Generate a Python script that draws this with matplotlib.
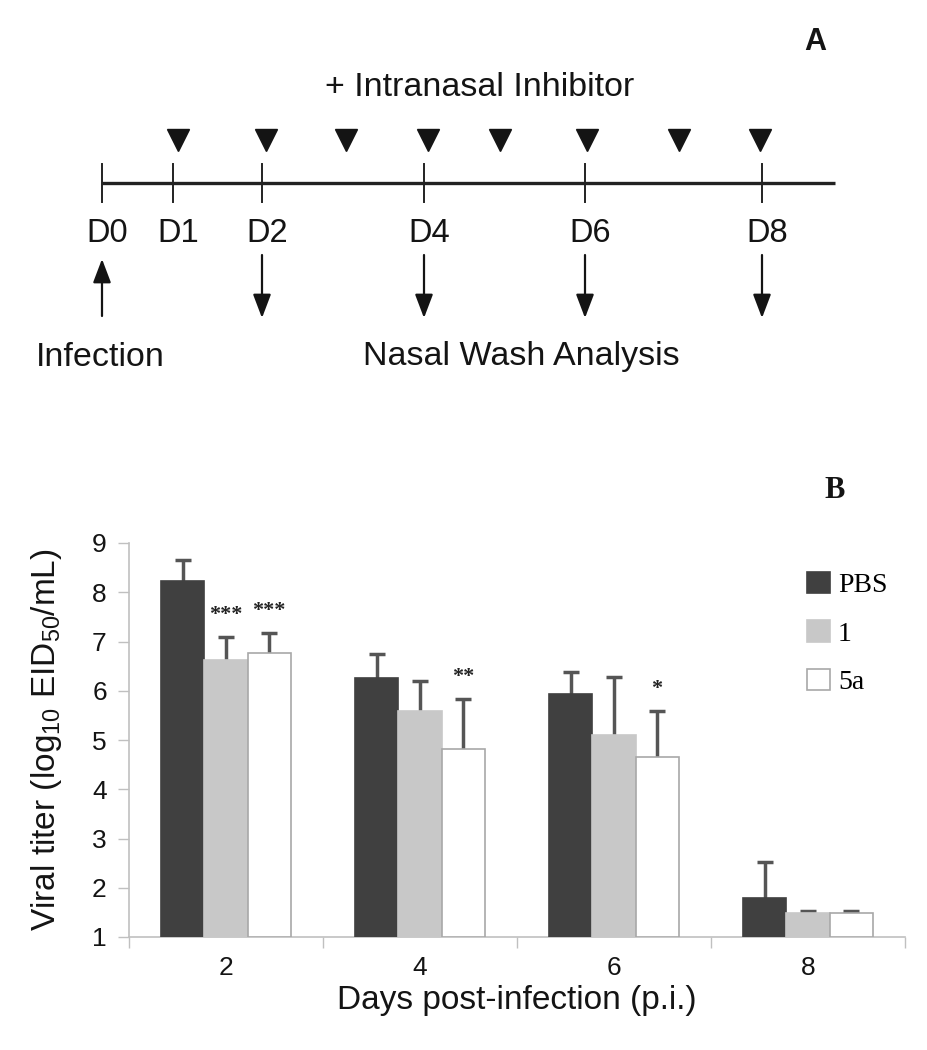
import numpy as np
import matplotlib
matplotlib.use("Agg")
import matplotlib.pyplot as plt
from matplotlib.patches import Patch

plt.rcParams['font.family'] = ['Liberation Sans', 'DejaVu Sans']
plt.rcParams['mathtext.default'] = 'regular'

# panel B data: viral titer (log10 EID50/mL) per day post-infection
days = ["2", "4", "6", "8"]
groups = ["PBS", "1", "5a"]
pbs = [8.22, 6.25, 5.93, 1.79]
cmpd_1 = [6.62, 5.58, 5.10, 1.49]
cmpd_5a = [6.76, 4.81, 4.65, 1.49]
pbs_err = [0.43, 0.49, 0.45, 0.73]
cmpd_1_err = [0.47, 0.61, 1.17, 0.03]
cmpd_5a_err = [0.41, 1.02, 0.93, 0.03]
sig_1 = ["***", "", "", ""]
sig_5a = ["***", "**", "*", ""]

# panel A schematic: timeline days, dosing days, wash days
timeline_days = ["D0", "D1", "D2", "D4", "D6", "D8"]
wash_days = ["D2", "D4", "D6", "D8"]

fig = plt.figure(figsize=(9.28, 10.5), dpi=100)

# ---- panel A: drawn in pixel coords of the top part of the figure ----
axA = fig.add_axes([0, 1 - 400 / 1050, 1, 400 / 1050])
axA.set_xlim(0, 928)
axA.set_ylim(400, 0)
axA.axis('off')

tick_x = {"D0": 102, "D1": 173, "D2": 262, "D4": 424, "D6": 585, "D8": 762}
dose_x = [178, 266, 346, 428, 500, 587, 679, 760]
ink = '#141414'

axA.plot([102, 835], [183, 183], color='#222222', lw=2.4, solid_capstyle='butt')
for d in timeline_days:
    axA.plot([tick_x[d], tick_x[d]], [164, 202], color='#222222', lw=1.4)
    axA.text(tick_x[d] + 5, 234, d, fontsize=23.5, ha='center', va='center', color=ink)

axA.plot(dose_x, [140] * len(dose_x), linestyle='none', marker='v', markersize=15.5,
         color=ink)

axA.text(480, 88, "+ Intranasal Inhibitor", fontsize=24.5, ha='center', va='center', color=ink)

# infection arrow (up) and nasal wash arrows (down)
arrow_style = '-|>,head_length=1.45,head_width=0.55'
axA.annotate("", xy=(tick_x["D0"], 259), xytext=(tick_x["D0"], 316),
             arrowprops=dict(arrowstyle=arrow_style, color=ink, lw=1.6, shrinkA=0, shrinkB=0))
for d in wash_days:
    axA.annotate("", xy=(tick_x[d], 318), xytext=(tick_x[d], 255),
                 arrowprops=dict(arrowstyle=arrow_style, color=ink, lw=1.6, shrinkA=0, shrinkB=0))

axA.text(100, 357, "Infection", fontsize=24.5, ha='center', va='center', color=ink)
axA.text(521, 357, "Nasal Wash Analysis", fontsize=24.5, ha='center', va='center', color=ink)
axA.text(815, 42, "A", fontsize=22, fontweight='bold', ha='center', va='center', color=ink)

# ---- panel B: bar chart ----
left, right = 129, 905
top, bottom = 543, 937
axB = fig.add_axes([left / 928, 1 - bottom / 1050, (right - left) / 928, (bottom - top) / 1050])

x = np.arange(len(days))
w = 0.222
colors = ['#404040', '#c8c8c8', 'white']
edges = ['#404040', '#c8c8c8', '#a8a8a8']
series = [pbs, cmpd_1, cmpd_5a]
errs = [pbs_err, cmpd_1_err, cmpd_5a_err]

for i, (vals, err) in enumerate(zip(series, errs)):
    pos = x + (i - 1) * w
    vals = np.array(vals)
    axB.bar(pos, vals - 1, bottom=1, width=w, color=colors[i], edgecolor=edges[i],
            linewidth=1.2, zorder=3)
    # symmetric bars drawn behind the bars so only the upper half shows
    axB.errorbar(pos, vals, yerr=err, fmt='none',
                 ecolor='#555555', elinewidth=2.5, capsize=6, capthick=2.5, zorder=2)

for i, (vals, err, sig) in enumerate([(cmpd_1, cmpd_1_err, sig_1), (cmpd_5a, cmpd_5a_err, sig_5a)]):
    for j, s in enumerate(sig):
        if s:
            axB.text(x[j] + i * w, vals[j] + err[j] + 0.25, s, ha='center', va='bottom',
                     fontsize=16, fontweight='bold', family='Liberation Serif', color='#222222')

axB.set_xlim(-0.5, len(days) - 0.5)
axB.set_ylim(1, 9)
axB.set_yticks(range(1, 10))
axB.set_xticks(x)
axB.set_xticklabels(days)
axB.set_xticks(np.arange(len(days) + 1) - 0.5, minor=True)
axB.tick_params(axis='x', which='major', length=0, pad=14, labelsize=19, labelcolor=ink)
axB.tick_params(axis='x', which='minor', length=8, color='#c0c0c0', width=1, direction='out')
axB.tick_params(axis='y', length=8, color='#c0c0c0', width=1, pad=8, labelsize=19, labelcolor=ink)
for s in ['top', 'right']:
    axB.spines[s].set_visible(False)
for s in ['left', 'bottom']:
    axB.spines[s].set_color('#c0c0c0')
    axB.spines[s].set_linewidth(1.2)

axB.set_ylabel("Viral titer (log$_{10}$ EID$_{50}$/mL)", fontsize=24, color=ink, labelpad=20)
axB.set_xlabel("Days post-infection (p.i.)", fontsize=24, color=ink, labelpad=3)

handles = [Patch(facecolor=c, edgecolor=e, linewidth=1.2) for c, e in zip(colors, edges)]
axB.legend(handles, groups, loc='upper left', bbox_to_anchor=(0.86, 0.955), frameon=False,
           prop={'family': 'Liberation Serif', 'size': 20}, handlelength=0.8, handleheight=0.8,
           handletextpad=0.3, labelspacing=0.8, borderaxespad=0)

fig.text(835 / 928, 1 - 490 / 1050, "B", fontsize=22, fontweight='bold', family='Liberation Serif',
         ha='center', va='center', color=ink)

fig.savefig("out.png", dpi=100)
